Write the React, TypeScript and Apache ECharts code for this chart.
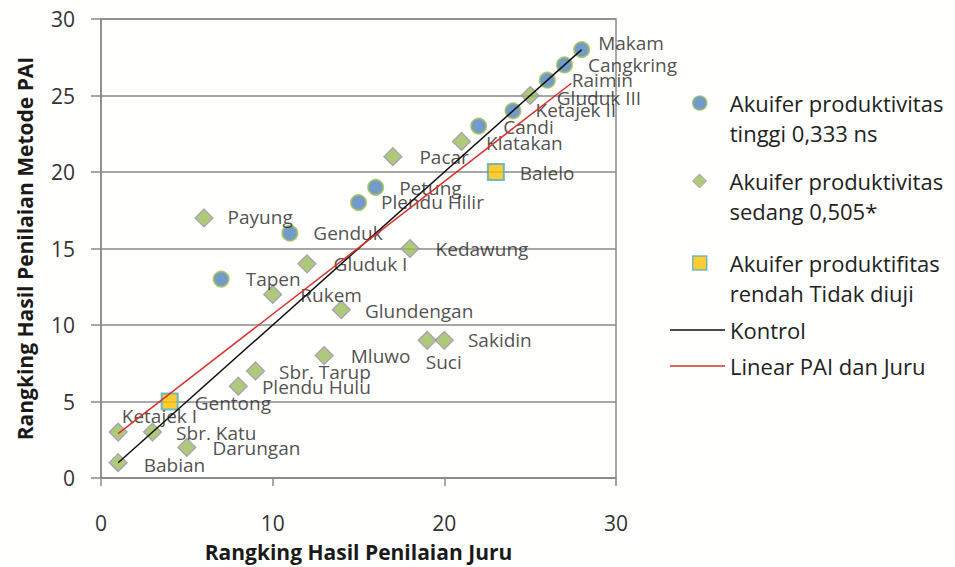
import React, { useEffect, useRef } from 'react';
import * as echarts from 'echarts';

// ---- Data ----
const highNames = ['Makam', 'Cangkring', 'Raimin', 'Ketajek II', 'Candi', 'Petung', 'Plendu Hilir', 'Genduk', 'Tapen'];
const highJuru = [28, 27, 26, 24, 22, 16, 15, 11, 7];
const highPAI = [28, 27, 26, 24, 23, 19, 18, 16, 13];

const midNames = ['Gluduk III', 'Klatakan', 'Pacar', 'Payung', 'Kedawung', 'Gluduk I', 'Rukem', 'Glundengan', 'Sakidin', 'Suci', 'Mluwo', 'Sbr. Tarup', 'Plendu Hulu', 'Ketajek I', 'Sbr. Katu', 'Darungan', 'Babian'];
const midJuru = [25, 21, 17, 6, 18, 12, 10, 14, 20, 19, 13, 9, 8, 1, 3, 5, 1];
const midPAI = [25, 22, 21, 17, 15, 14, 12, 11, 9, 9, 8, 7, 6, 3, 3, 2, 1];

const lowNames = ['Balelo', 'Gentong'];
const lowJuru = [23, 4];
const lowPAI = [20, 5];

const kontrolX = [1, 28];
const kontrolY = [1, 28];
const linearX = [1, 27.4];
const linearY = [2.9, 25.8];

const seriesNames = [
  'Akuifer produktivitas tinggi 0,333 ns',
  'Akuifer produktivitas sedang 0,505*',
  'Akuifer produktifitas rendah Tidak diuji',
  'Kontrol',
  'Linear PAI dan Juru',
];
const legendLines = [
  ['Akuifer produktivitas', 'tinggi 0,333 ns'],
  ['Akuifer produktivitas', 'sedang 0,505*'],
  ['Akuifer produktifitas', 'rendah Tidak diuji'],
];

// ---- Layout (label nudges, px) ----
const labelOffsets: Record<string, [number, number]> = {
  'Makam': [-6, -7], 'Cangkring': [1, 0], 'Raimin': [2, 0], 'Ketajek II': [0, -1], 'Candi': [2, 1],
  'Petung': [1, 1], 'Plendu Hilir': [0, -1], 'Genduk': [1, 0], 'Tapen': [2, 0],
  'Gluduk III': [3, 2], 'Klatakan': [1, 2], 'Pacar': [3, 0], 'Payung': [0, -1], 'Kedawung': [2, 0],
  'Gluduk I': [3, 0], 'Rukem': [4, 1], 'Glundengan': [0, 1], 'Sakidin': [0, 0], 'Suci': [-25, 22],
  'Mluwo': [3, 0], 'Sbr. Tarup': [0, 1], 'Plendu Hulu': [0, 1], 'Ketajek I': [-20, -16],
  'Sbr. Katu': [0, 1], 'Darungan': [2, 1], 'Babian': [2, 2],
  'Balelo': [1, 1], 'Gentong': [2, 1],
};

const FONT = '"Open Sans", "Noto Sans", sans-serif';
const AXIS_COLOR = '#8a8a8a';
const TEXT = '#222';

function points(names: string[], xs: number[], ys: number[]) {
  return names.map((n, i) => ({
    name: n,
    value: [xs[i], ys[i]],
    label: { offset: labelOffsets[n] || [0, 0] },
  }));
}

const labelCfg = {
  show: true,
  position: 'right',
  distance: 14,
  formatter: '{b}',
  fontFamily: FONT,
  fontSize: 19,
  color: TEXT,
};

const legendText = { fontFamily: FONT, fontSize: 22, lineHeight: 30, color: TEXT };

function symbolLegend(idx: number, top: number, icon: string, itemStyle: any) {
  const lines = legendLines[idx];
  return {
    data: [{ name: seriesNames[idx], icon }],
    left: 692,
    top,
    padding: 0,
    itemWidth: 14,
    itemHeight: 14,
    selectedMode: false,
    itemStyle,
    formatter: () => '{t| }\n' + lines.map((l) => '{g| }{t|' + l + '}').join('\n'),
    textStyle: {
      ...legendText,
      rich: {
        t: { ...legendText },
        g: { width: 18, fontSize: 22, lineHeight: 30 },
      },
    },
  };
}

function lineLegend(idx: number, top: number) {
  return {
    data: [{ name: seriesNames[idx], icon: 'rect' }],
    left: 670,
    top,
    padding: 0,
    itemWidth: 55,
    itemHeight: 1.5,
    selectedMode: false,
    textStyle: { ...legendText },
  };
}

export default function App() {
  const ref = useRef<HTMLDivElement>(null);
  useEffect(() => {
    if (!ref.current) return;
    const chart = echarts.init(ref.current, null, { renderer: 'svg' });
    chart.setOption({
      animation: false,
      backgroundColor: '#fffffd',
      grid: {
        left: 101, right: 339, top: 19, bottom: 88,
        show: true, borderColor: AXIS_COLOR, borderWidth: 1.5,
      },
      legend: [
        symbolLegend(0, 58, 'circle', { color: '#4F81BD', borderColor: '#9BBB59', borderWidth: 1.5 }),
        symbolLegend(1, 136, 'diamond', { color: '#9BBB59', borderColor: '#9a8cbc', borderWidth: 1 }),
        symbolLegend(2, 218, 'rect', { color: '#FFC000', borderColor: '#4BACC6', borderWidth: 1.5 }),
        lineLegend(3, 315),
        lineLegend(4, 351),
      ],
      xAxis: {
        type: 'value', min: 0, max: 30, interval: 10,
        name: 'Rangking Hasil Penilaian Juru', nameLocation: 'middle', nameGap: 63,
        nameTextStyle: { fontFamily: FONT, fontSize: 21, fontWeight: 'bold', color: '#1a1a1a' },
        axisLine: { show: true, onZero: false, lineStyle: { color: AXIS_COLOR, width: 1.5 } },
        axisTick: { show: true, length: 8, lineStyle: { color: AXIS_COLOR, width: 1.5 } },
        axisLabel: { margin: 34, fontFamily: FONT, fontSize: 21, color: '#333' },
        splitLine: { show: false },
      },
      yAxis: {
        type: 'value', min: 0, max: 30, interval: 5,
        name: 'Rangking Hasil Penilaian Metode PAI', nameLocation: 'middle', nameGap: 66,
        nameTextStyle: { fontFamily: FONT, fontSize: 21, fontWeight: 'bold', color: '#1a1a1a' },
        axisLine: { show: true, onZero: false, lineStyle: { color: AXIS_COLOR, width: 1.5 } },
        axisTick: { show: true, length: 10, lineStyle: { color: AXIS_COLOR, width: 1.5 } },
        axisLabel: { margin: 26, fontFamily: FONT, fontSize: 21, color: '#333' },
        splitLine: { show: true, lineStyle: { color: AXIS_COLOR, width: 1.5 } },
      },
      series: [
        {
          name: seriesNames[0], type: 'scatter', symbol: 'circle', symbolSize: 15, z: 2,
          itemStyle: { color: '#4F81BD', borderColor: '#9BBB59', borderWidth: 2 },
          label: labelCfg,
          data: points(highNames, highJuru, highPAI),
        },
        {
          name: seriesNames[1], type: 'scatter', symbol: 'diamond', symbolSize: 18, z: 2,
          itemStyle: { color: '#9BBB59', borderColor: '#9a8cbc', borderWidth: 1.2 },
          label: labelCfg,
          data: points(midNames, midJuru, midPAI),
        },
        {
          name: seriesNames[2], type: 'scatter', symbol: 'rect', symbolSize: 16, z: 2,
          itemStyle: { color: '#FFC000', borderColor: '#4BACC6', borderWidth: 2 },
          label: labelCfg,
          data: points(lowNames, lowJuru, lowPAI),
        },
        {
          name: seriesNames[3], type: 'line', symbol: 'none', z: 3,
          lineStyle: { color: '#111', width: 1.5 }, itemStyle: { color: '#111' },
          data: kontrolX.map((x, i) => [x, kontrolY[i]]),
        },
        {
          name: seriesNames[4], type: 'line', symbol: 'none', z: 3,
          lineStyle: { color: '#d9312b', width: 1.5 }, itemStyle: { color: '#d9312b' },
          data: linearX.map((x, i) => [x, linearY[i]]),
        },
      ],
    });
    return () => chart.dispose();
  }, []);
  return <div ref={ref} style={{ position: 'absolute', left: 0, top: 0, width: 955, height: 567 }} />;
}
